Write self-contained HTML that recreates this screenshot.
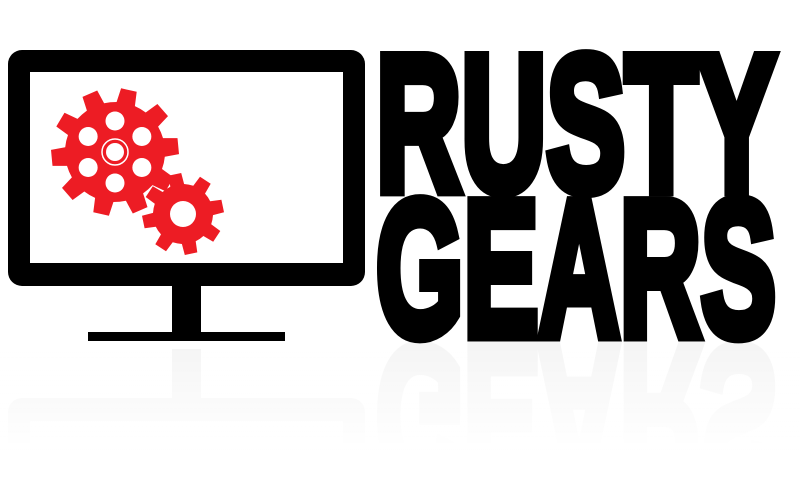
<!DOCTYPE html>
<html><head><meta charset="utf-8"><style>
html,body{margin:0;padding:0;background:#fff;width:800px;height:500px;overflow:hidden}
svg{display:block;overflow:hidden}
</style></head><body>
<svg id="logo" width="800" height="500" viewBox="0 0 800 500" xmlns="http://www.w3.org/2000/svg">
<defs>
<linearGradient id="fade" x1="0" y1="0" x2="0" y2="1">
<stop offset="0" stop-color="#fff" stop-opacity="0.4"/>
<stop offset="0.7" stop-color="#fff" stop-opacity="1"/>
</linearGradient>
</defs>
<g id="reflection" opacity="0.07" transform="translate(0,684) scale(1,-1)">
<rect x="8" y="50" width="357" height="236" rx="14" fill="#000"/>
<rect x="30" y="72" width="313" height="191" fill="#fff"/>
<rect x="172" y="285" width="29" height="50" fill="#000"/>
<text x="376" y="335" font-family="Liberation Sans Narrow, Liberation Sans, sans-serif" font-weight="bold" font-size="140" textLength="400" lengthAdjust="spacingAndGlyphs" fill="#000" stroke="#000" stroke-width="9" transform="translate(0,-127) scale(1,1.38)">GEARS</text>
</g>
<rect x="0" y="343" width="800" height="157" fill="url(#fade)"/>
<g>
<rect x="8" y="50" width="357" height="236" rx="14" fill="#000"/>
<rect x="30" y="72" width="313" height="191" fill="#fff"/>
<rect x="172" y="285" width="29" height="50" fill="#000"/>
<rect x="88" y="332" width="197" height="9" fill="#000"/>
</g>
<g id="gears"></g>
<text x="376" y="190" font-family="Liberation Sans Narrow, Liberation Sans, sans-serif" font-weight="bold" font-size="140" textLength="400" lengthAdjust="spacingAndGlyphs" fill="#000" stroke="#000" stroke-width="9" stroke-linejoin="miter" transform="translate(0,-72) scale(1,1.38)">RUSTY</text>
<text x="376" y="335" font-family="Liberation Sans Narrow, Liberation Sans, sans-serif" font-weight="bold" font-size="140" textLength="400" lengthAdjust="spacingAndGlyphs" fill="#000" stroke="#000" stroke-width="9" stroke-linejoin="miter" transform="translate(0,-127) scale(1,1.38)">GEARS</text>
</svg>
<script>
var NS='http://www.w3.org/2000/svg';
var g=document.getElementById('gears');
function gearPath(cx,cy,rb,rt,n,rot){
  var d='',step=2*Math.PI/n;
  for(var i=0;i<n;i++){
    var a=rot+i*step;
    var pts=[[a-step*0.5,rb],[a-step*0.3,rb],[a-step*0.2,rt],[a+step*0.2,rt],[a+step*0.3,rb]];
    pts.forEach(function(p,j){
      var x=cx+p[1]*Math.cos(p[0]),y=cy+p[1]*Math.sin(p[0]);
      d+=(i==0&&j==0?'M':'L')+x.toFixed(1)+' '+y.toFixed(1)+' ';
    });
  }
  return d+'Z';
}
function add(tag,attrs,name){
  var e=document.createElementNS(NS,tag);
  for(var k in attrs)e.setAttribute(k,attrs[k]);
  
  
  g.appendChild(e);return e;
}
add('path',{d:gearPath(115,152,50,64,10,-1.35),fill:'#ed1c24'},'large-gear');
for(var i=0;i<6;i++){
  var a=-Math.PI/2+i*Math.PI/3;
  add('circle',{cx:115+31*Math.cos(a),cy:152+31*Math.sin(a),r:9.5,fill:'#fff'},'large-gear-hole');
}
add('circle',{cx:115,cy:152,r:13,fill:'none',stroke:'#fff','stroke-width':1.5},'large-gear-ring');
add('circle',{cx:115,cy:152,r:9,fill:'#fff'},'large-gear-center');
add('path',{d:gearPath(183,214,30,41,8,-0.2),fill:'#ed1c24'},'small-gear');
add('circle',{cx:183,cy:214,r:13,fill:'#fff'},'small-gear-hole');
</script>
</body></html>
